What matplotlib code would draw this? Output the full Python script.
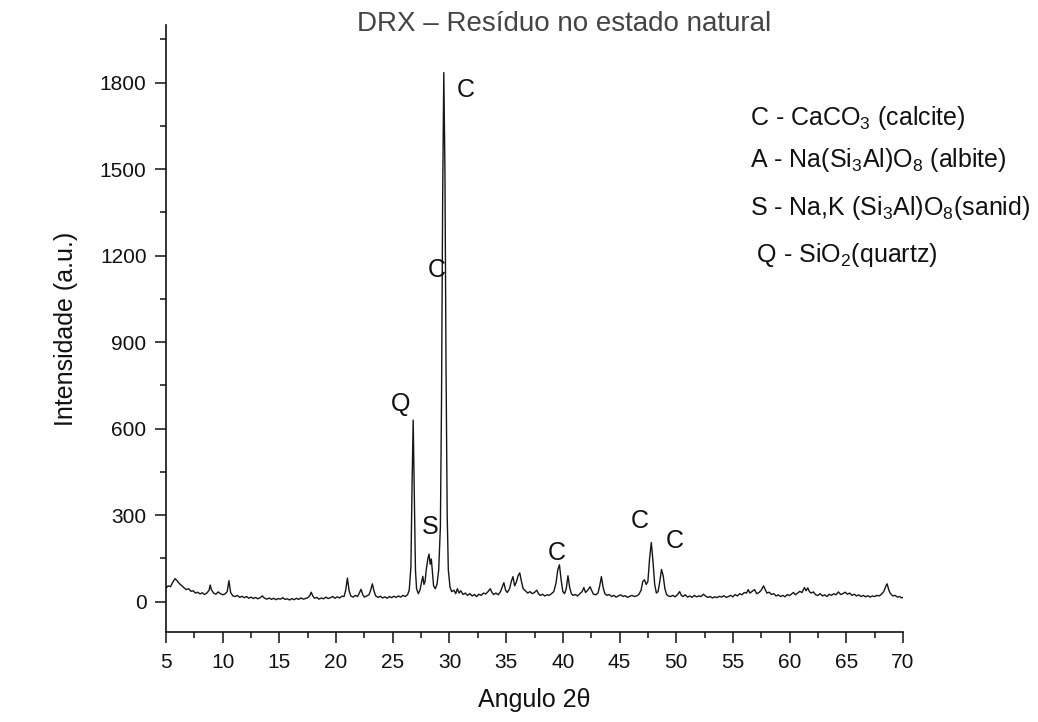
import matplotlib
matplotlib.use("Agg")
import matplotlib.pyplot as plt
from matplotlib.ticker import MultipleLocator

plt.rcParams['font.family'] = ['Liberation Sans', 'DejaVu Sans']
plt.rcParams['mathtext.fontset'] = 'custom'
plt.rcParams['mathtext.rm'] = 'Liberation Sans'
plt.rcParams['mathtext.it'] = 'Liberation Sans:italic'
plt.rcParams['mathtext.bf'] = 'Liberation Sans:bold'

# ---- data (2theta, intensity) ----
two_theta = [
    5.0, 5.2, 5.4, 5.6, 5.8, 6.0, 6.2, 6.4, 6.6, 6.8, 7.0, 7.2, 7.4, 7.6, 7.8, 8.0, 8.2, 8.4, 8.6, 8.8,
    8.9, 9.0, 9.2, 9.4, 9.6, 9.8, 10.0, 10.2, 10.4, 10.55, 10.7, 10.9, 11.1, 11.3, 11.5, 11.7, 11.9,
    12.1, 12.3, 12.5, 12.7, 12.9, 13.1, 13.3, 13.5, 13.7, 13.9, 14.1, 14.3, 14.5, 14.7, 14.9, 15.1,
    15.3, 15.5, 15.7, 15.9, 16.1, 16.3, 16.5, 16.7, 16.9, 17.1, 17.3, 17.5, 17.7, 17.8, 17.95, 18.1,
    18.3, 18.5, 18.7, 18.9, 19.1, 19.3, 19.5, 19.7, 19.9, 20.1, 20.3, 20.5, 20.7, 20.85, 21.0, 21.15,
    21.3, 21.5, 21.7, 21.9, 22.05, 22.2, 22.35, 22.5, 22.7, 22.9, 23.05, 23.2, 23.35, 23.5, 23.7,
    23.9, 24.1, 24.3, 24.5, 24.7, 24.9, 25.1, 25.3, 25.5, 25.7, 25.9, 26.1, 26.3, 26.45, 26.6, 26.7,
    26.8, 26.9, 27.0, 27.1, 27.25, 27.4, 27.55, 27.65, 27.75, 27.85, 27.95, 28.1, 28.2, 28.3, 28.4,
    28.5, 28.6, 28.75, 28.9, 29.05, 29.2, 29.3, 29.4, 29.5, 29.6, 29.7, 29.8, 29.9, 30.05, 30.2,
    30.4, 30.55, 30.7, 30.85, 31.0, 31.2, 31.4, 31.6, 31.8, 32.0, 32.2, 32.4, 32.6, 32.8, 33.0,
    33.2, 33.4, 33.6, 33.75, 33.9, 34.1, 34.3, 34.5, 34.65, 34.8, 34.95, 35.1, 35.3, 35.45, 35.6,
    35.75, 35.9, 36.05, 36.2, 36.35, 36.5, 36.7, 36.9, 37.1, 37.3, 37.5, 37.7, 37.85, 38.0, 38.2,
    38.4, 38.6, 38.8, 39.0, 39.2, 39.4, 39.55, 39.7, 39.85, 40.0, 40.15, 40.3, 40.45, 40.6, 40.75,
    40.9, 41.1, 41.3, 41.5, 41.7, 41.85, 42.0, 42.2, 42.4, 42.55, 42.7, 42.9, 43.1, 43.25, 43.4,
    43.55, 43.7, 43.9, 44.1, 44.3, 44.5, 44.7, 44.9, 45.1, 45.3, 45.5, 45.7, 45.9, 46.1, 46.3,
    46.5, 46.7, 46.9, 47.05, 47.2, 47.35, 47.5, 47.65, 47.8, 47.95, 48.1, 48.25, 48.4, 48.55, 48.7,
    48.85, 49.0, 49.15, 49.3, 49.5, 49.7, 49.9, 50.1, 50.3, 50.45, 50.6, 50.8, 51.0, 51.2, 51.4,
    51.6, 51.8, 52.0, 52.2, 52.4, 52.6, 52.8, 53.0, 53.2, 53.4, 53.6, 53.8, 54.0, 54.2, 54.4, 54.6,
    54.8, 55.0, 55.2, 55.4, 55.6, 55.8, 56.0, 56.2, 56.35, 56.5, 56.7, 56.9, 57.1, 57.3, 57.5,
    57.7, 57.85, 58.0, 58.2, 58.4, 58.6, 58.8, 59.0, 59.2, 59.4, 59.6, 59.8, 60.0, 60.2, 60.35,
    60.5, 60.7, 60.9, 61.1, 61.3, 61.45, 61.6, 61.75, 61.9, 62.1, 62.3, 62.5, 62.7, 62.9, 63.1,
    63.3, 63.5, 63.7, 63.9, 64.1, 64.3, 64.5, 64.7, 64.9, 65.1, 65.3, 65.5, 65.7, 65.9, 66.1,
    66.3, 66.5, 66.7, 66.9, 67.1, 67.3, 67.5, 67.7, 67.9, 68.1, 68.3, 68.5, 68.6, 68.75, 68.9,
    69.1, 69.3, 69.5, 69.7, 69.9, 70.0,
]
intensity = [
    48, 55, 52, 68, 80, 72, 62, 55, 48, 42, 45, 36, 38, 30, 33, 27, 31, 25, 30, 40,
    58, 42, 30, 26, 34, 28, 24, 27, 35, 73, 32, 20, 18, 22, 15, 19, 14,
    18, 12, 16, 11, 15, 10, 14, 20, 12, 9, 13, 8, 12, 7, 11, 9,
    14, 8, 10, 6, 11, 7, 12, 8, 13, 9, 11, 14, 22, 33, 20, 12,
    15, 9, 13, 10, 16, 11, 14, 18, 12, 17, 13, 19, 18, 40, 82, 38,
    20, 16, 22, 18, 30, 43, 25, 16, 20, 24, 40, 62, 36, 20, 15,
    19, 13, 17, 12, 18, 14, 19, 15, 20, 16, 22, 18, 24, 40, 120, 400,
    630, 380, 110, 45, 28, 40, 70, 88, 60, 70, 110, 150, 165, 130, 148,
    100, 55, 45, 60, 110, 260, 700, 1400, 1835, 1500, 800, 300, 110, 50, 35,
    40, 28, 45, 30, 38, 25, 30, 22, 28, 20, 25, 18, 26, 22, 30,
    27, 35, 45, 32, 25, 30, 24, 35, 50, 66, 40, 32, 45, 70, 87,
    55, 68, 90, 100, 70, 45, 38, 30, 35, 28, 32, 40, 28, 22, 26,
    20, 24, 22, 28, 35, 65, 110, 128, 75, 35, 28, 45, 90, 50, 28,
    22, 25, 20, 28, 35, 49, 32, 40, 52, 38, 26, 24, 30, 55, 87,
    50, 28, 22, 25, 18, 22, 16, 20, 24, 18, 21, 15, 19, 22, 18,
    20, 25, 40, 70, 76, 60, 70, 150, 205, 140, 60, 30, 35, 70, 112,
    90, 45, 25, 20, 18, 22, 17, 24, 35, 22, 18, 24, 16, 20, 15,
    22, 17, 20, 18, 26, 19, 15, 18, 13, 17, 14, 19, 16, 21, 15, 18,
    22, 17, 25, 20, 28, 24, 32, 30, 42, 30, 36, 42, 28, 32, 40,
    55, 42, 30, 33, 25, 28, 20, 24, 18, 22, 17, 25, 21, 28, 32,
    24, 30, 36, 32, 49, 38, 48, 35, 30, 34, 24, 22, 28, 20, 24,
    18, 26, 22, 28, 24, 34, 25, 28, 33, 26, 30, 22, 26, 20, 24,
    18, 22, 17, 21, 16, 20, 18, 22, 20, 26, 35, 55, 62, 40, 28,
    20, 22, 16, 18, 13, 15,
]

# peak identification labels
peak_letters = ["C", "C", "Q", "S", "C", "C", "C"]
peak_x = [31.4, 28.9, 25.65, 28.3, 39.5, 46.8, 49.9]
peak_y = [1776, 1151, 687, 260, 170, 281, 212]

legend_lines = [
    r"C - CaCO$_3$ (calcite)",
    r"A - Na(Si$_3$Al)O$_8$ (albite)",
    r"S - Na,K (Si$_3$Al)O$_8$(sanid)",
    r" Q - SiO$_2$(quartz)",
]

title = "DRX – Resíduo no estado natural"
xlabel = "Angulo 2θ"
ylabel = "Intensidade (a.u.)"

W, H = 1038, 722
fig = plt.figure(figsize=(W / 100, H / 100), dpi=100)
ax = fig.add_axes([166 / W, 1 - 632 / H, (903 - 166) / W, (632 - 25) / H])

ax.plot(two_theta, intensity, color="#151515", lw=1.0)

ax.set_xlim(5, 70)
ax.set_ylim(-105, 2000)
ax.xaxis.set_major_locator(MultipleLocator(5))
ax.xaxis.set_minor_locator(MultipleLocator(2.5))
ax.yaxis.set_major_locator(MultipleLocator(300))
ax.yaxis.set_minor_locator(MultipleLocator(150))

for s in ("top", "right"):
    ax.spines[s].set_visible(False)
for s in ("left", "bottom"):
    ax.spines[s].set_linewidth(1.2)
    ax.spines[s].set_color("#111111")

ax.tick_params(which="major", direction="out", length=8, width=1.1, color="#111111",
               labelsize=15, labelcolor="#111111")
ax.tick_params(which="minor", direction="out", length=4.5, width=1.1, color="#111111")
ax.tick_params(axis="y", which="major", pad=6)
ax.tick_params(axis="x", which="major", pad=7)

ax.set_xlabel(xlabel, fontsize=18, color="#111111", labelpad=12)
ax.set_ylabel(ylabel, fontsize=18, color="#111111", labelpad=16)

for t, x, y in zip(peak_letters, peak_x, peak_y):
    ax.text(x, y, t, fontsize=18, ha="center", va="center", color="#111111")

baselines = [125, 167, 215, 262]
for txt, b in zip(legend_lines, baselines):
    fig.text(750 / W, 1 - b / H, txt, fontsize=18, ha="left", va="baseline", color="#111111")

fig.text(564 / W, 1 - 31 / H, title, fontsize=20, ha="center", va="baseline", color="#444444")

fig.savefig("out.png", dpi=100)
